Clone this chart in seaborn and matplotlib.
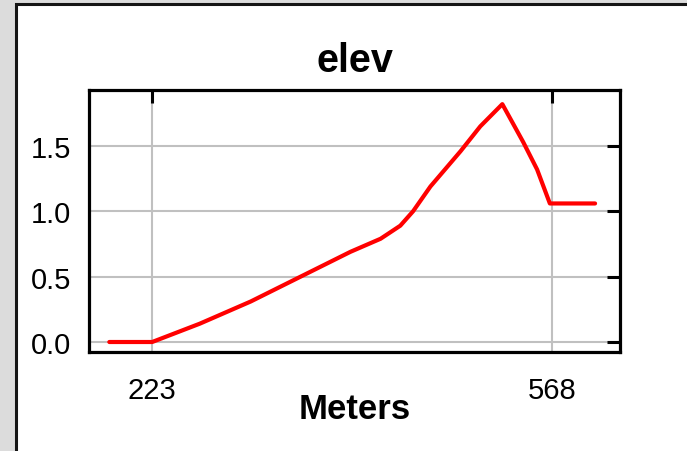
import matplotlib
matplotlib.use("Agg")
import matplotlib.pyplot as plt
from matplotlib.patches import Rectangle
import seaborn as sns

# elevation profile
meters = [186, 223, 264, 308, 351, 394, 420, 437, 448, 463, 489, 506, 525, 543, 555, 566, 605]
elev = [0.0, 0.0, 0.14, 0.31, 0.50, 0.69, 0.79, 0.89, 1.00, 1.19, 1.46, 1.65, 1.82, 1.53, 1.32, 1.06, 1.06]

x_ticks = [223, 568]
y_ticks = [0.0, 0.5, 1.0, 1.5]
title = "elev"
x_label = "Meters"

sns.set_style("white")
plt.rcParams["font.family"] = ["Liberation Sans Narrow", "Liberation Sans", "DejaVu Sans"]
plt.rcParams["text.color"] = "black"
plt.rcParams["axes.labelcolor"] = "black"

fig = plt.figure(figsize=(6.87, 4.52), dpi=100, facecolor="#dcdcdc")

# white panel with a dark frame, cut off at the right and bottom
fig.add_artist(Rectangle((15.5 / 687, -0.1), 1.2, 1.1 - 4.5 / 452,
                         transform=fig.transFigure, facecolor="white",
                         edgecolor="#151515", linewidth=2.2, zorder=-1))

ax = fig.add_axes([89 / 687, 1 - 353 / 452, 531 / 687, 262.5 / 452])
ax.set_facecolor("white")

sns.lineplot(x=meters, y=elev, color="#ff0000", linewidth=3, ax=ax, zorder=3)

ax.set_xlim(168.5, 626.5)
ax.set_ylim(-0.0765, 1.932)
ax.set_xticks(x_ticks)
ax.set_xticklabels([str(t) for t in x_ticks])
ax.set_yticks(y_ticks)
ax.set_yticklabels([f"{t:.1f}" for t in y_ticks])

ax.grid(True, color="#c0c0c0", linewidth=1.5)
for s in ax.spines.values():
    s.set_visible(True)
    s.set_color("black")
    s.set_linewidth(2.3)

ax.tick_params(axis="both", direction="in", top=True, right=True,
               length=9.5, width=2.2, color="black", labelcolor="black", labelsize=21)
ax.tick_params(axis="x", pad=17)
ax.tick_params(axis="y", pad=13)

ax.set_title(title, fontsize=28.5, fontweight="bold", family=["Liberation Sans"],
             color="black", pad=13)
ax.set_xlabel(x_label, fontsize=25, fontweight="bold", family=["Liberation Sans"], color="black")
ax.xaxis.set_label_coords(0.5, -0.152)
ax.set_ylabel("")

fig.savefig("out.png", dpi=100, facecolor=fig.get_facecolor())
